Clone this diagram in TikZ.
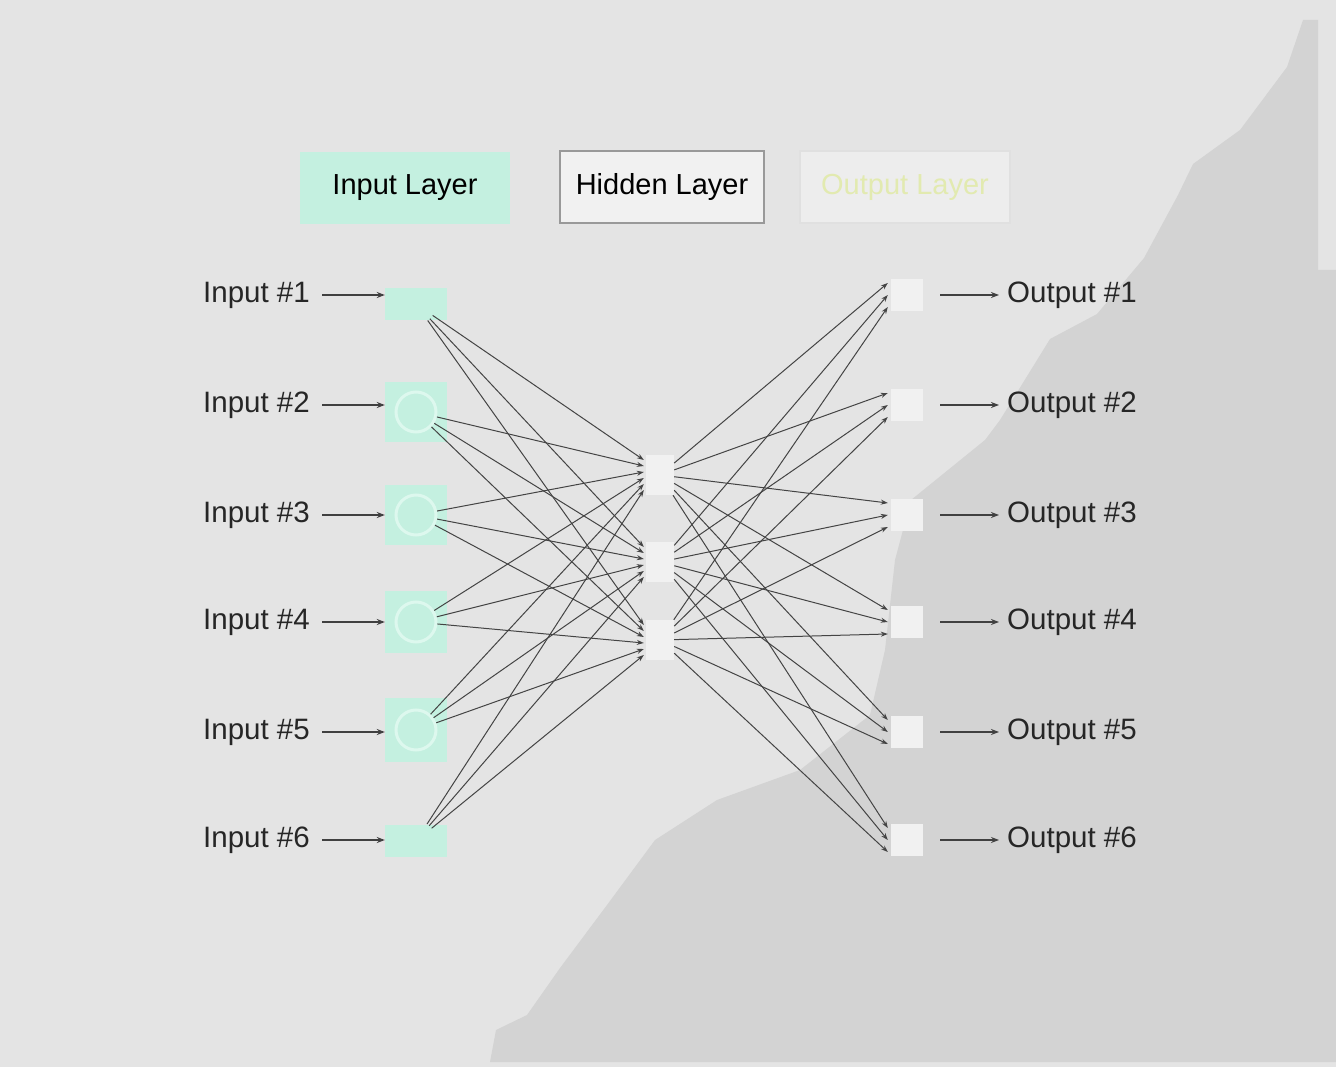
\documentclass[tikz,border=0pt]{standalone}
\usepackage{fontspec}
\setmainfont{Liberation Sans}
\usetikzlibrary{arrows.meta,calc}

\definecolor{bglight}{HTML}{E4E4E4}
\definecolor{bgdark}{HTML}{D3D3D3}
\definecolor{inteal}{HTML}{C4F0E0}
\definecolor{ringteal}{HTML}{DDF8EE}
\definecolor{wirecol}{HTML}{444444}
\definecolor{paleyellow}{HTML}{E2EAB0}
\definecolor{nodewhite}{HTML}{F1F1F1}

\begin{document}
\begin{tikzpicture}[x=1pt,y=-1pt,
  lbl/.style={font=\fontsize{29.5}{32}\selectfont, text=black!85, inner sep=0pt},
  legendbox/.style={minimum width=210pt, minimum height=72pt, inner sep=0pt,
    font=\fontsize{29}{32}\selectfont},
  inbox/.style={fill=inteal, minimum width=62pt, inner sep=0pt},
  ring/.style={circle, minimum size=40pt, inner sep=0pt},
  hidbox/.style={fill=nodewhite, minimum width=28pt, minimum height=40pt, inner sep=0pt},
  outbox/.style={fill=nodewhite, minimum width=32pt, minimum height=32pt, inner sep=0pt},
  wire/.style={draw=wirecol, line width=1pt, -{Stealth[length=7pt,width=5pt]}},
  feed/.style={draw=black!75, line width=1.4pt, -{Stealth[length=8pt,width=6pt]}}
]

% background with the darker lower-right field
\fill[bglight] (0,0) rectangle (1336,1067);
\fill[bgdark] (1303,20) -- (1318,20) -- (1318,270) -- (1336,270) -- (1336,1062)
  -- (490,1062) -- (496,1030) -- (527,1015) -- (560,968) -- (607,905) -- (655,840)
  -- (717,800) -- (800,770) -- (870,715) -- (885,650) -- (895,560) -- (911,500)
  -- (985,440) -- (1000,420) -- (1050,339) -- (1097,314) -- (1144,258)
  -- (1178,195) -- (1193,164) -- (1240,130) -- (1287,67) -- cycle;

% legend
\node[legendbox, fill=inteal] (leg-in) at (405,188) {Input Layer};
\node[legendbox, fill=nodewhite, draw=black!40, line width=1.5pt, minimum width=204pt]
  (leg-hid) at (662,187) {Hidden Layer};
\node[legendbox, fill=nodewhite!70!bglight, draw=black!12, line width=1.5pt,
  text=paleyellow] (leg-out) at (905,187) {Output Layer};

% input layer
\foreach \i/\yl/\yn/\h in {1/295/304/32, 2/405/412/60, 3/515/515/60,
                           4/622/622/62, 5/732/730/64, 6/840/841/32} {
  \node[inbox, minimum height=\h] (in\i) at (416,\yn) {};
  \node[lbl, anchor=east] (lab\i) at (310,\yl) {Input \#\i};
  \draw[feed] ($(lab\i.east)+(12,0)$) -- (lab\i.east -| in\i.west);
}
\foreach \i in {2,...,5}
  \node[ring, draw=ringteal, line width=3pt] (inc\i) at (in\i) {};
\foreach \i in {1,6}
  \node[ring] (inc\i) at (in\i) {};

% hidden layer
\foreach \j/\y in {1/475, 2/562, 3/640}
  \node[hidbox] (h\j) at (660,\y) {};

% output layer
\foreach \k/\y in {1/295, 2/405, 3/515, 4/622, 5/732, 6/840} {
  \node[outbox] (out\k) at (907,\y) {};
  \node[lbl, anchor=west] (olab\k) at (1007,\y) {Output \#\k};
  \draw[feed] ($(out\k.east)+(17,0)$) -- ($(olab\k.west)+(-8,0)$);
}

% input -> hidden connections
\foreach \i in {1,...,6}
  \foreach \j in {1,2,3}
    \draw[wire] (inc\i) -- ($(h\j.west)+(-2,{(\i-3.5)*6})$);

% hidden -> output connections
\foreach \j in {1,2,3}
  \foreach \k in {1,...,6}
    \draw[wire] (h\j) -- ($(out\k.west)+(-3,{(\j-2)*12})$);

\end{tikzpicture}
\end{document}
